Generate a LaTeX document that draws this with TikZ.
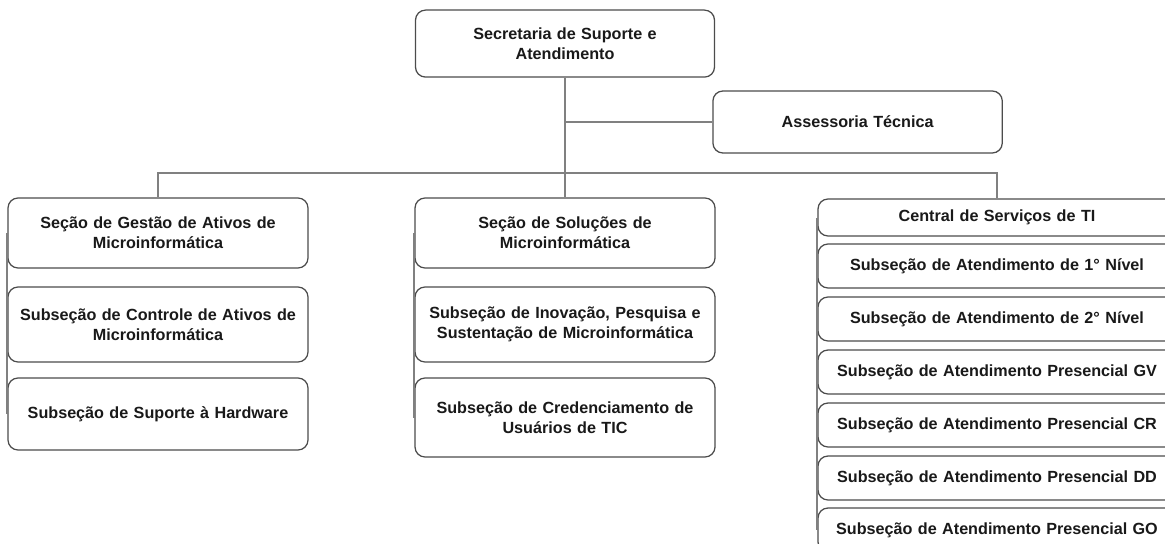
\documentclass[tikz,border=0pt]{standalone}
\usepackage{fontspec}
\setmainfont{Liberation Sans}
\usetikzlibrary{positioning}

\begin{document}
\begin{tikzpicture}[
    every node/.style={align=center, font=\fontsize{11.5}{14.5}\selectfont\bfseries, text=black!90},
    unit/.style={rectangle, rounded corners=2.5mm, draw=black!70, fill=white, line width=0.9pt, text width=7cm, minimum width=7.5cm, minimum height=1.75cm},
    sub/.style={unit, text width=8.6cm, minimum width=8.95cm, minimum height=1.1cm},
    link/.style={draw=black!50, line width=1.2pt}
]

% --- Margens da figura
\useasboundingbox (0,0) rectangle (29.125,-13.6);

% --- Topo (secretaria e assessoria)
\node[unit, minimum width=7.475cm, minimum height=1.675cm] (secretaria) at (14.125,-1.09) {Secretaria de Suporte e\\Atendimento};
\node[unit, minimum width=7.225cm, minimum height=1.55cm] (assessoria) at (21.44,-3.05) {Assessoria Técnica};

% --- Coluna esquerda
\node[unit] (gestao) at (3.95,-5.825) {Seção de Gestão de Ativos de\\Microinformática};
\node[unit, minimum height=1.875cm] (controle) at (3.95,-8.1125) {Subseção de Controle de Ativos de\\Microinformática};
\node[unit, minimum height=1.8cm] (hardware) at (3.95,-10.35) {Subseção de Suporte à Hardware};

% --- Coluna do meio
\node[unit] (solucoes) at (14.125,-5.825) {Seção de Soluções de\\Microinformática};
\node[unit, minimum height=1.875cm] (inovacao) at (14.125,-8.1125) {Subseção de Inovação, Pesquisa e\\Sustentação de Microinformática};
\node[unit, minimum height=1.975cm] (credenciamento) at (14.125,-10.4375) {Subseção de Credenciamento de\\Usuários de TIC};

% --- Coluna direita (central de serviços)
\node[sub, minimum height=0.925cm] (central) at (24.925,-5.4375) {Central de Serviços de TI};
\node[sub] (nivel1) at (24.925,-6.65) {Subseção de Atendimento de 1° Nível};
\node[sub] (nivel2) at (24.925,-7.975) {Subseção de Atendimento de 2° Nível};
\node[sub] (presgv) at (24.925,-9.3) {Subseção de Atendimento Presencial GV};
\node[sub] (prescr) at (24.925,-10.625) {Subseção de Atendimento Presencial CR};
\node[sub] (presdd) at (24.925,-11.95) {Subseção de Atendimento Presencial DD};
\node[sub] (presgo) at (24.925,-13.25) {Subseção de Atendimento Presencial GO};

% --- Ligações
\coordinate (barra) at (14.125,-4.325);
\draw[link] (secretaria) -- (solucoes);
\draw[link] (assessoria) -- (assessoria.west -| secretaria.south);
\draw[link] (gestao.north) |- (barra) -| (central.north);

% --- Linhas laterais das colunas
\draw[link] ([xshift=-0.5pt]gestao.west) -- ([xshift=-0.5pt]hardware.west);
\draw[link] ([xshift=-0.5pt]solucoes.west) -- ([xshift=-0.5pt]credenciamento.west);
\draw[link] ([xshift=-0.5pt]central.west) -- ([xshift=-0.5pt]presgo.west);

\end{tikzpicture}
\end{document}
